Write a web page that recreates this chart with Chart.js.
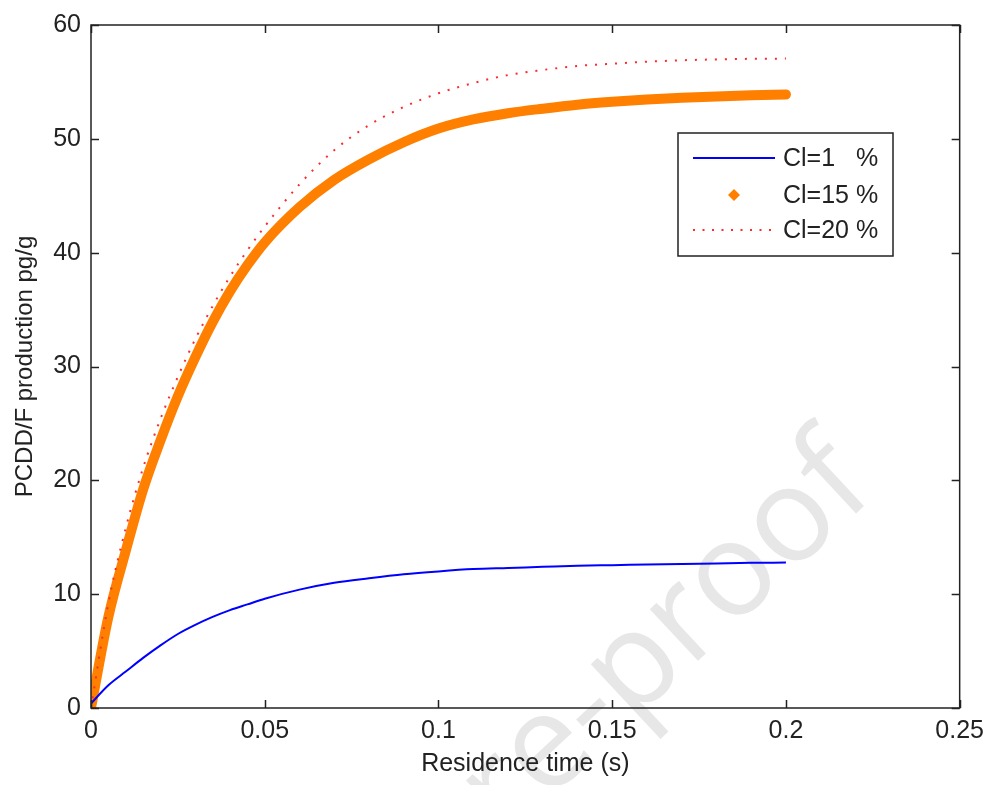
<!DOCTYPE html>
<html>
<head>
<meta charset="utf-8">
<script src="https://cdn.jsdelivr.net/npm/chart.js@4.4.1/dist/chart.umd.min.js"></script>
<style>
    html, body { margin: 0; padding: 0; background: #fff; }
    #wrap { width: 992px; height: 785px; position: relative; }
</style>
</head>
<body>
<div id="wrap"><canvas id="chart" width="992" height="785"></canvas></div>
<script>
    /* =========================
       DATA
    ========================== */
    const times = [0, 0.005, 0.01, 0.015, 0.02, 0.025, 0.03, 0.035, 0.04, 0.045, 0.05,
        0.06, 0.07, 0.08, 0.09, 0.1, 0.11, 0.12, 0.13, 0.14, 0.15, 0.16, 0.17, 0.18, 0.19, 0.2];

    const cl1 = [0.4, 2.0, 3.2, 4.4, 5.5, 6.5, 7.3, 8.0, 8.6, 9.1, 9.6,
        10.4, 11.0, 11.4, 11.75, 12.0, 12.2, 12.3, 12.4, 12.5, 12.55, 12.6, 12.65, 12.7, 12.75, 12.78];

    const cl15 = [0, 8.0, 13.8, 19.2, 23.5, 27.4, 30.8, 33.9, 36.6, 38.9, 40.9,
        44.0, 46.4, 48.2, 49.7, 50.9, 51.7, 52.25, 52.65, 53.0, 53.25, 53.45, 53.6, 53.72, 53.82, 53.9];

    const cl20 = [0, 9.2, 15.8, 21.1, 25.4, 29.1, 32.4, 35.3, 37.9, 40.2, 42.3,
        46.0, 49.0, 51.2, 52.8, 54.0, 54.9, 55.6, 56.05, 56.4, 56.6, 56.78, 56.9, 56.98, 57.03, 57.05];

    const seriesLabels = ["Cl=1   %", "Cl=15 %", "Cl=20 %"];
    const xTicks = [0, 0.05, 0.1, 0.15, 0.2, 0.25];
    const yTicks = [0, 10, 20, 30, 40, 50, 60];

    const FONT = "'Liberation Sans', Arial, sans-serif";
    const INK = "#222";
    const BLUE = "#0000ff";
    const ORANGE = "#ff8000";
    const RED = "#ff2a2a";

    const toPoints = ys => times.map((t, i) => ({ x: t, y: ys[i] }));

    /* =========================
       PLUGINS
    ========================== */
    // faint watermark behind everything
    const watermark = {
        id: "watermark",
        beforeDraw(chart) {
            const c = chart.ctx;
            c.save();
            c.fillStyle = "#fff";
            c.fillRect(0, 0, chart.width, chart.height);
            c.translate(448, 894);
            c.rotate(-43 * Math.PI / 180);
            c.font = "132px 'Open Sans', Arial, sans-serif";
            c.fillStyle = "#e7e7e7";
            c.textAlign = "left";
            c.textBaseline = "alphabetic";
            c.fillText("Pre-proof", 0, 0);
            c.restore();
        }
    };

    // box round the plot with inward ticks on every side
    const frame = {
        id: "frame",
        afterDraw(chart) {
            const c = chart.ctx;
            const { left, right, top, bottom } = chart.chartArea;
            const xs = chart.scales.x, ys = chart.scales.y;
            const len = 8;
            c.save();
            c.strokeStyle = INK;
            c.lineWidth = 1.5;
            c.strokeRect(left, top, right - left, bottom - top);
            c.beginPath();
            xTicks.forEach(v => {
                const px = Math.round(xs.getPixelForValue(v)) + 0.5;
                c.moveTo(px, bottom); c.lineTo(px, bottom - len);
                c.moveTo(px, top); c.lineTo(px, top + len);
            });
            yTicks.forEach(v => {
                const py = Math.round(ys.getPixelForValue(v)) + 0.5;
                c.moveTo(left, py); c.lineTo(left + len, py);
                c.moveTo(right, py); c.lineTo(right - len, py);
            });
            c.stroke();
            c.restore();
        }
    };

    // legend box in the upper right of the plot
    const legendBox = {
        id: "legendBox",
        afterDraw(chart) {
            const c = chart.ctx;
            const bx = 678, by = 133, bw = 215, bh = 123;
            const rows = [158, 195, 230];
            const x0 = 693, x1 = 775, tx = 783;
            c.save();
            c.fillStyle = "#fff";
            c.fillRect(bx, by, bw, bh);
            c.strokeStyle = INK;
            c.lineWidth = 1.5;
            c.strokeRect(bx, by, bw, bh);

            // blue line
            c.strokeStyle = BLUE;
            c.lineWidth = 2;
            c.beginPath(); c.moveTo(x0, rows[0]); c.lineTo(x1, rows[0]); c.stroke();

            // orange marker
            const mx = 734, my = rows[1];
            c.fillStyle = ORANGE;
            c.beginPath();
            c.moveTo(mx, my - 6); c.lineTo(mx + 6, my); c.lineTo(mx, my + 6); c.lineTo(mx - 6, my);
            c.closePath(); c.fill();

            // red dotted line
            c.strokeStyle = RED;
            c.lineWidth = 2;
            c.setLineDash([2, 7.5]);
            c.beginPath(); c.moveTo(x0, rows[2]); c.lineTo(x1 + 2, rows[2]); c.stroke();
            c.setLineDash([]);

            c.fillStyle = INK;
            c.font = "25px " + FONT;
            c.textAlign = "left";
            c.textBaseline = "middle";
            seriesLabels.forEach((s, i) => c.fillText(s, tx, rows[i] + 1));
            c.restore();
        }
    };

    /* =========================
       CHART
    ========================== */
    const ctx = document.getElementById("chart").getContext("2d");

    new Chart(ctx, {
        type: "line",
        data: {
            datasets: [
                {
                    label: seriesLabels[2],
                    data: toPoints(cl20),
                    borderColor: RED,
                    borderWidth: 2,
                    borderDash: [2, 8],
                    pointRadius: 0,
                    cubicInterpolationMode: "monotone",
                    fill: false,
                    order: 0
                },
                {
                    label: seriesLabels[0],
                    data: toPoints(cl1),
                    borderColor: BLUE,
                    borderWidth: 2,
                    pointRadius: 0,
                    cubicInterpolationMode: "monotone",
                    fill: false,
                    order: 1
                },
                {
                    label: seriesLabels[1],
                    data: toPoints(cl15),
                    borderColor: ORANGE,
                    borderWidth: 10,
                    borderCapStyle: "round",
                    borderJoinStyle: "round",
                    pointRadius: 0,
                    cubicInterpolationMode: "monotone",
                    fill: false,
                    order: 2
                }
            ]
        },
        options: {
            responsive: false,
            animation: false,
            devicePixelRatio: 1,
            layout: { padding: { top: 24, right: 29, left: 0, bottom: 0 } },
            plugins: {
                legend: { display: false },
                tooltip: { enabled: false }
            },
            scales: {
                x: {
                    type: "linear",
                    min: 0,
                    max: 0.25,
                    afterBuildTicks: s => { s.ticks = xTicks.map(v => ({ value: v })); },
                    afterFit: s => { s.height = 77; },
                    grid: { display: false, drawTicks: false },
                    border: { display: false },
                    ticks: {
                        color: INK,
                        font: { family: FONT, size: 25 },
                        padding: 8,
                        maxRotation: 0,
                        autoSkip: false,
                        callback: v => String(+Number(v).toFixed(3))
                    },
                    title: {
                        display: true,
                        text: "Residence time (s)",
                        color: INK,
                        font: { family: FONT, size: 25 },
                        padding: { top: 0, bottom: 6 }
                    }
                },
                y: {
                    type: "linear",
                    min: 0,
                    max: 60,
                    afterBuildTicks: s => { s.ticks = yTicks.map(v => ({ value: v })); },
                    afterFit: s => { s.width = 91; },
                    grid: { display: false, drawTicks: false },
                    border: { display: false },
                    ticks: {
                        color: INK,
                        font: { family: FONT, size: 25 },
                        padding: 10,
                        autoSkip: false
                    },
                    title: {
                        display: true,
                        text: "PCDD/F production pg/g",
                        color: INK,
                        font: { family: FONT, size: 24 },
                        padding: { top: 11, bottom: 0 }
                    }
                }
            }
        },
        plugins: [watermark, frame, legendBox]
    });
</script>
</body>
</html>
